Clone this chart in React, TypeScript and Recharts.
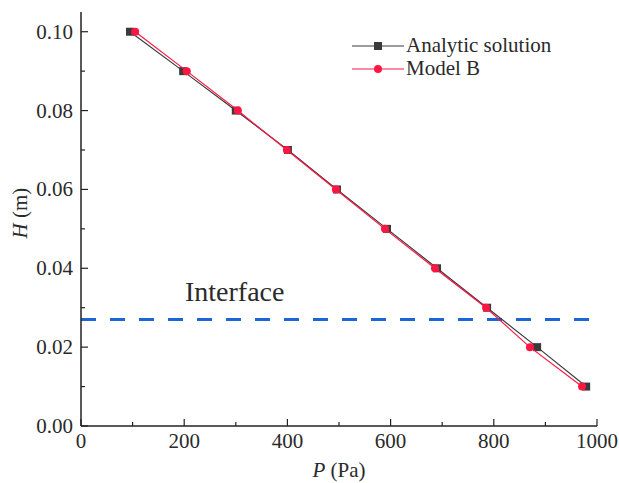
import { ReferenceLine, Scatter, ScatterChart, XAxis, YAxis, ZAxis } from "recharts";

const heights = [0.1, 0.09, 0.08, 0.07, 0.06, 0.05, 0.04, 0.03, 0.02, 0.01];
const analyticP = [95, 198, 300, 401, 496, 593, 690, 787, 884, 979];
const modelBP = [105, 205, 304, 399, 494, 589, 686, 785, 870, 971];
const interfaceH = 0.027;

const xTicks = [0, 100, 200, 300, 400, 500, 600, 700, 800, 900, 1000];
const xLabels = [0, 200, 400, 600, 800, 1000];
const yTicks = [0, 0.01, 0.02, 0.03, 0.04, 0.05, 0.06, 0.07, 0.08, 0.09, 0.1];
const yLabels = [0, 0.02, 0.04, 0.06, 0.08, 0.1];

const FONT = "Liberation Serif, Times New Roman, serif";
const BLACK = "#3a3a3a";
const RED = "#ff1744";
const TXT = "#2a2a2a";

const analyticData = heights.map((h, i) => ({ p: analyticP[i], h }));
const modelBData = heights.map((h, i) => ({ p: modelBP[i], h }));

const isLabel = (list: number[], v: number) => list.some((l) => Math.abs(l - v) < 1e-9);

function XTick({ x, y, payload }: any) {
  const major = isLabel(xLabels, payload.value);
  return (
    <g>
      <line x1={x} x2={x} y1={y} y2={y - (major ? 7 : 4)} stroke="#222" strokeWidth={1.2} />
      {major && (
        <text x={x} y={y + 22} textAnchor="middle" style={{ fontFamily: FONT, fontSize: 21 }} fill={TXT}>
          {payload.value}
        </text>
      )}
    </g>
  );
}

function YTick({ x, y, payload }: any) {
  const major = isLabel(yLabels, payload.value);
  return (
    <g>
      <line x1={x} x2={x + (major ? 7 : 4)} y1={y} y2={y} stroke="#222" strokeWidth={1.2} />
      {major && (
        <text x={x - 8} y={y + 7} textAnchor="end" style={{ fontFamily: FONT, fontSize: 21 }} fill={TXT}>
          {payload.value.toFixed(2)}
        </text>
      )}
    </g>
  );
}

const squareShape = ({ cx, cy }: any) => (
  <rect x={cx - 4} y={cy - 4} width={8} height={8} fill={BLACK} />
);
const circleShape = ({ cx, cy }: any) => <circle cx={cx} cy={cy} r={4} fill={RED} />;

function LegendBox() {
  const row = (color: string, marker: "square" | "circle", label: string) => (
    <div style={{ display: "flex", alignItems: "center", height: 23, overflow: "hidden" }}>
      <svg width={52} height={12}>
        <line x1={0} x2={52} y1={6} y2={6} stroke={color} strokeWidth={1.2} />
        {marker === "square" ? (
          <rect x={22} y={2} width={8} height={8} fill={color} />
        ) : (
          <circle cx={26} cy={6} r={4} fill={color} />
        )}
      </svg>
      <span style={{ fontFamily: FONT, fontSize: 21, color: TXT, marginLeft: 2, lineHeight: "21px" }}>{label}</span>
    </div>
  );
  return (
    <div style={{ position: "absolute", left: 352, top: 34 }}>
      {row(BLACK, "square", "Analytic solution")}
      {row(RED, "circle", "Model B")}
    </div>
  );
}

export default function App() {
  return (
    <div style={{ position: "absolute", left: 0, top: 0, width: 619, height: 483, background: "#fff" }}>
      <ScatterChart width={619} height={483} margin={{ top: 12, right: 22, left: 0, bottom: 0 }}>
        <XAxis
          type="number"
          dataKey="p"
          domain={[0, 1000]}
          ticks={xTicks}
          interval={0}
          tick={<XTick />}
          tickSize={0}
          tickMargin={0}
          tickLine={false}
          height={57}
          axisLine={{ stroke: "#222", strokeWidth: 1.5 }}
          label={({ viewBox }: any) => (
            <text
              x={viewBox.x + viewBox.width / 2}
              y={viewBox.y + 51}
              textAnchor="middle"
              style={{ fontFamily: FONT, fontSize: 21 }}
              fill={TXT}
            >
              <tspan fontStyle="italic">P</tspan> (Pa)
            </text>
          )}
        />
        <YAxis
          type="number"
          dataKey="h"
          domain={[0, 0.105]}
          ticks={yTicks}
          interval={0}
          tick={<YTick />}
          tickSize={0}
          tickMargin={0}
          tickLine={false}
          width={81}
          axisLine={{ stroke: "#222", strokeWidth: 1.5 }}
          label={({ viewBox }: any) => {
            const cx = 27;
            const cy = viewBox.y + viewBox.height / 2 - 6;
            return (
              <text
                x={cx}
                y={cy}
                transform={`rotate(-90 ${cx} ${cy})`}
                textAnchor="middle"
                style={{ fontFamily: FONT, fontSize: 21 }}
                fill={TXT}
              >
                <tspan fontStyle="italic">H</tspan> (m)
              </text>
            );
          }}
        />
        <ZAxis range={[60, 60]} />
        <ReferenceLine
          y={interfaceH}
          stroke="#1a66d9"
          strokeWidth={3}
          strokeDasharray="15 14"
          label={({ viewBox }: any) => (
            <text x={viewBox.x + 104} y={viewBox.y - 19} style={{ fontFamily: FONT, fontSize: 28 }} fill={TXT}>
              Interface
            </text>
          )}
        />
        <Scatter
          name="Analytic solution"
          data={analyticData}
          line={{ stroke: BLACK, strokeWidth: 1.2 }}
          shape={squareShape}
          isAnimationActive={false}
        />
        <Scatter
          name="Model B"
          data={modelBData}
          line={{ stroke: RED, strokeWidth: 1.2 }}
          shape={circleShape}
          isAnimationActive={false}
        />
      </ScatterChart>
      <LegendBox />
    </div>
  );
}
